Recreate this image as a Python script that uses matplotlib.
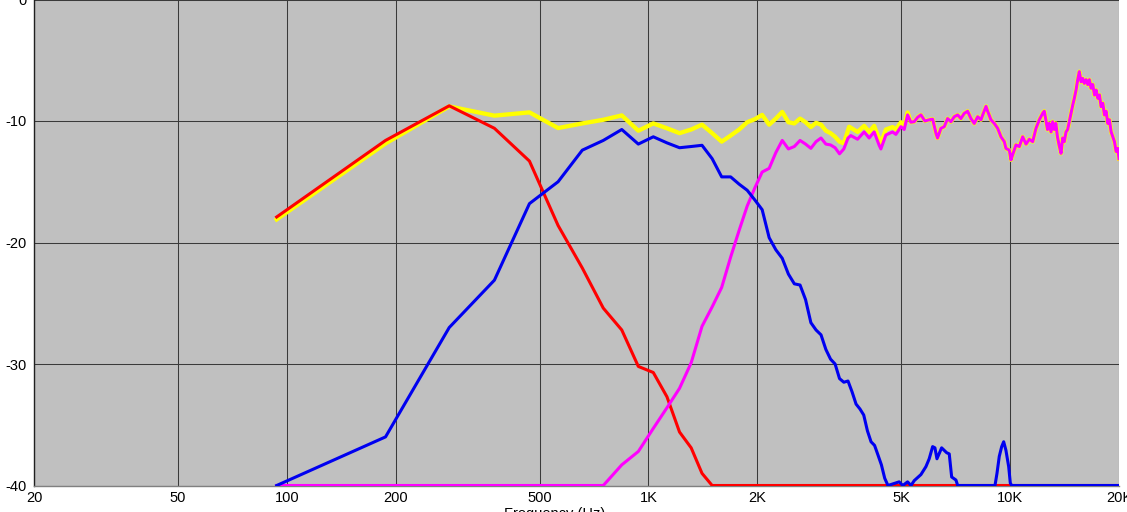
import matplotlib
matplotlib.use("Agg")
import matplotlib.pyplot as plt

plt.rcParams['font.family'] = ['Liberation Sans', 'DejaVu Sans']

# ---------------- data (Hz, dB) ----------------
woofer_f = [93.75, 187.5, 281.25, 375.0, 468.75, 562.5, 656.25, 750.0, 843.75, 937.5,
            1031.25, 1125.0, 1218.75, 1312.5, 1406.25, 1500.0, 20000]
woofer_db = [-17.9, -11.6, -8.75, -10.6, -13.3, -18.6, -22.1, -25.4, -27.2, -30.2,
             -30.7, -32.7, -35.6, -36.9, -39.0, -40.0, -40.0]

mid_f = [93.75, 187.5, 281.25, 375.0, 468.75, 562.5, 656.25, 750.0, 843.75, 937.5,
         1031.25, 1125.0, 1218.75, 1312.5, 1406.25, 1500.0, 1593.75, 1687.5, 1781.25, 1875.0,
         1968.75, 2062.5, 2156.25, 2250.0, 2343.75, 2437.5, 2531.25, 2625.0, 2718.75, 2812.5,
         2906.25, 3000.0, 3093.75, 3187.5, 3281.25, 3375.0, 3468.75, 3562.5, 3656.25, 3750.0,
         3843.75, 3937.5, 4031.25, 4125.0, 4218.75, 4312.5, 4406.25, 4500.0, 4593.75,
         4934, 5050, 5206, 5320, 5430, 5667, 5850, 5974, 6106, 6195, 6276, 6466, 6675, 6787,
         6892, 7083, 7161, 9081, 9197, 9333, 9477, 9598, 9736, 9909, 10011, 10100, 20000]
mid_db = [-40.0, -36.0, -27.0, -23.1, -16.8, -15.0, -12.4, -11.6, -10.7, -11.9,
          -11.3, -11.8, -12.2, -12.1, -12.0, -13.1, -14.6, -14.6, -15.2, -15.7,
          -16.5, -17.3, -19.6, -20.6, -21.3, -22.6, -23.4, -23.5, -24.7, -26.6,
          -27.2, -27.6, -28.8, -29.6, -30.0, -31.2, -31.5, -31.4, -32.3, -33.3,
          -33.7, -34.2, -35.5, -36.4, -36.7, -37.5, -38.3, -39.4, -40.0,
          -39.7, -40.0, -39.7, -40.0, -39.6, -39.1, -38.45, -37.8, -36.8, -36.9, -37.8, -36.9, -37.3, -37.4,
          -39.3, -39.55, -40.0, -40.0, -39.0, -37.6, -36.8, -36.4, -37.1, -38.45, -39.8, -40.0, -40.0]

tweeter_f = [93.75, 750.0, 843.75, 937.5, 1031.25, 1125.0, 1218.75, 1312.5, 1406.25, 1500.0,
             1593.75, 1687.5, 1781.25, 1875.0, 1968.75, 2062.5, 2156.25, 2250.0, 2343.75, 2437.5,
             2531.25, 2625.0, 2718.75, 2812.5, 2906.25, 3000.0, 3093.75, 3187.5, 3281.25, 3375.0,
             3468.75, 3562.5, 3627, 3786, 3948, 4076, 4208, 4344, 4392, 4534, 4731, 4832, 4990,
             5094, 5206, 5316, 5430, 5549, 5667, 5813, 5974, 6106, 6236, 6299, 6438, 6574, 6716,
             6860, 7007, 7161, 7311, 7467, 7630, 7793, 7959, 8134, 8308, 8398, 8577, 8667, 8851,
             9041, 9237, 9434, 9636, 9736, 9950, 10056, 10155, 10380, 10602, 10832, 11064, 11302,
             11545, 11791, 12044, 12302, 12428, 12553, 12686, 12816, 12976, 13107, 13243, 13378,
             13516, 13656, 13827, 13970, 14114, 14276, 14425, 14572, 14740, 14899, 15050, 15215,
             15378, 15535, 15711, 15878, 16040, 16218, 16394, 16561, 16745, 16925, 17110, 17290,
             17475, 17660, 17847, 18039, 18230, 18425, 18622, 18815, 19025, 19222, 19427, 19634,
             19845, 20000]
tweeter_db = [-40.0, -40.0, -38.3, -37.2, -35.3, -33.6, -32.0, -29.9, -26.9, -25.3,
              -23.7, -21.2, -19.0, -17.0, -15.5, -14.2, -13.9, -12.6, -11.6, -12.3,
              -12.1, -11.6, -11.9, -12.25, -11.7, -11.4, -11.9, -11.97, -12.2, -12.7,
              -12.3, -11.4, -11.2, -11.5, -10.9, -11.4, -10.9, -12.0, -12.3, -11.15, -10.9, -11.1, -10.47,
              -10.7, -9.5, -10.1, -10.06, -9.7, -9.5, -10.0, -9.9, -9.85, -11.0, -11.4, -10.6, -10.47, -9.8,
              -10.06, -9.65, -9.5, -9.8, -9.37, -9.2, -9.8, -10.2, -9.65, -9.9, -9.5, -8.8, -9.2, -9.9,
              -10.2, -10.6, -11.3, -11.7, -12.25, -12.4, -13.2, -12.8, -11.97, -12.1, -11.3, -11.9, -11.5,
              -11.7, -10.6, -9.9, -9.37, -9.2, -9.9, -10.7, -10.2, -10.9, -10.06, -10.7, -10.2,
              -11.3, -11.97, -12.66, -11.4, -11.7, -10.9, -10.7, -10.06, -9.37, -8.68, -8.13, -7.45,
              -6.6, -5.94, -6.77, -6.5, -6.9, -6.6, -7.0, -6.6, -7.3, -7.0, -7.86, -7.45,
              -8.13, -7.86, -8.82, -8.54, -9.5, -9.2, -10.2, -9.9, -10.9, -11.3, -11.7, -12.5,
              -12.25, -13.1]

# total response below 5.3 kHz; above that it coincides with the tweeter trace
total_lo_f = [93.75, 187.5, 281.25, 375.0, 468.75, 562.5, 656.25, 750.0, 843.75, 937.5,
              1031.25, 1125.0, 1218.75, 1312.5, 1406.25, 1500.0, 1593.75, 1687.5, 1781.25, 1875.0,
              1968.75, 2062.5, 2156.25, 2250.0, 2343.75, 2437.5, 2531.25, 2625.0, 2718.75, 2812.5,
              2906.25, 3000.0, 3093.75, 3187.5, 3281.25, 3375.0, 3468.75, 3588, 3786, 3948, 4076,
              4208, 4344, 4392, 4534, 4731, 4832, 4990, 5094, 5206]
total_lo_db = [-18.1, -11.85, -8.8, -9.56, -9.29, -10.58, -10.2, -9.9, -9.54, -10.8,
               -10.2, -10.6, -11.0, -10.7, -10.3, -11.0, -11.7, -11.2, -10.7, -10.1,
               -9.85, -9.5, -10.3, -9.8, -9.25, -10.1, -10.2, -9.8, -10.1, -10.5,
               -10.15, -10.3, -10.8, -11.0, -11.3, -11.7, -11.84, -10.47, -10.9, -10.4, -10.9,
               -10.4, -11.5, -11.8, -10.7, -10.5, -10.7, -10.1, -10.4, -9.3]
i0 = tweeter_f.index(5316)
total_f = total_lo_f + tweeter_f[i0:]
total_db = total_lo_db + tweeter_db[i0:]

xticks = [20, 50, 100, 200, 500, 1000, 2000, 5000, 10000, 20000]
xticklabels = ['20', '50', '100', '200', '500', '1K', '2K', '5K', '10K', '20K']
yticks = [-40, -30, -20, -10, 0]
yticklabels = ['-40', '-30', '-20', '-10', '0']

# ---------------- figure ----------------
W, H = 1127, 512
fig = plt.figure(figsize=(W / 100, H / 100), dpi=100)
ax = fig.add_axes([34 / W, 26.5 / H, 1085 / W, 486 / H])
ax.set_facecolor('#C0C0C0')
ax.set_xscale('log')
ax.set_xlim(20, 20000)
ax.set_ylim(-40, 0)

ax.set_xticks(xticks)
ax.set_xticklabels(xticklabels)
ax.minorticks_off()
ax.set_yticks(yticks)
ax.set_yticklabels(yticklabels)
ax.tick_params(axis='both', length=0, labelsize=10.5, colors='black')
ax.tick_params(axis='x', pad=4)
ax.tick_params(axis='y', pad=5)
ax.grid(True, color='#3a3a3a', linewidth=0.75)
ax.set_axisbelow(True)

for s in ['top', 'right']:
    ax.spines[s].set_visible(False)
ax.spines['left'].set_color('#202020')
ax.spines['left'].set_linewidth(1.0)
ax.spines['bottom'].set_color('#808080')
ax.spines['bottom'].set_linewidth(1.0)

ax.plot(total_f, total_db, color='#FFFF00', linewidth=3.1, solid_joinstyle='round', zorder=3)
ax.plot(woofer_f, woofer_db, color='#FF0000', linewidth=2.2, solid_joinstyle='round', zorder=4)
ax.plot(tweeter_f, tweeter_db, color='#FF00FF', linewidth=2.2, solid_joinstyle='round', zorder=5)
ax.plot(mid_f, mid_db, color='#0000F0', linewidth=2.2, solid_joinstyle='round', zorder=6)

fig.text(555 / W, (H - 507) / H, 'Frequency (Hz)', ha='center', va='top', fontsize=10.5)

fig.savefig('out.png', dpi=100, facecolor='white')
